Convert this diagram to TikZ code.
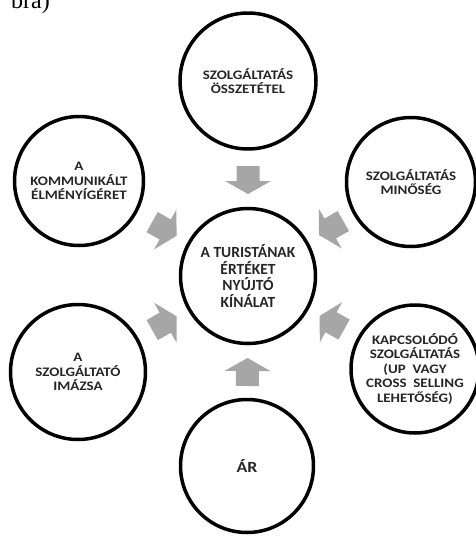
\documentclass[tikz,border=0pt]{standalone}
\usepackage{fontspec}
\setmainfont{Carlito}
\newfontfamily\widefont[FakeStretch=1.15]{Carlito}
\newfontfamily\seriffont{Liberation Serif}
\usetikzlibrary{calc}
\definecolor{arrowgray}{RGB}{166,166,166}
\definecolor{txt}{RGB}{38,38,38}
\begin{document}
\begin{tikzpicture}[x=1pt,y=-1pt,
  bubble/.style={circle, draw=black, line width=3.5pt, inner sep=0pt,
    minimum size=#1, text=txt, align=center,
    font=\widefont\bfseries\fontsize{13}{14.5}\selectfont},
  bubble/.default=132,
  bigtext/.style={font=\bfseries\fontsize{15.5}{16.5}\selectfont},
  artext/.style={font=\widefont\bfseries\fontsize{15.5}{16.5}\selectfont},
  blockarr/.pic={\fill[arrowgray] (0,-11.5) -- (15,-11.5) -- (15,-23) -- (28,0)
     -- (15,23) -- (15,11.5) -- (0,11.5) -- cycle;}
]
\useasboundingbox (0,0) rectangle (476,536);

\node[font=\seriffont\fontsize{24}{28}\selectfont, anchor=base east, inner sep=0pt] (cap) at (50,8) {bra)};

\node[bubble=135, bigtext] (cen) at (248,276) {A TURISTÁNAK\\ÉRTÉKET\\NYÚJTÓ\\KÍNÁLAT};
\node[bubble=136] (top) at (248,81) {SZOLGÁLTATÁS\\ÖSSZETÉTEL};
\node[bubble=129] (tl) at (79,181) {A\\KOMMUNIKÁLT\\ÉLMÉNYÍGÉRET};
\node[bubble=129] (tr) at (411,182) {SZOLGÁLTATÁS\\MINŐSÉG};
\node[bubble=135] (bl) at (78,372) {A\\SZOLGÁLTATÓ\\IMÁZSA};
\node[bubble=128] (br) at (415,369) {KAPCSOLÓDÓ\\SZOLGÁLTATÁS\\(UP\ \ VAGY\\CROSS\ \ SELLING\\LEHETŐSÉG)};
\node[bubble=133, artext] (bot) at (247,466) {ÁR};

\foreach \o in {top,tl,tr,bl,br,bot}{
  \path let \p1=($(cen)-(\o)$), \n1={atan2(\y1,\x1)} in
    ($(cen)!110pt!(\o)$) pic[rotate=\n1] {blockarr};
}
\end{tikzpicture}
\end{document}
